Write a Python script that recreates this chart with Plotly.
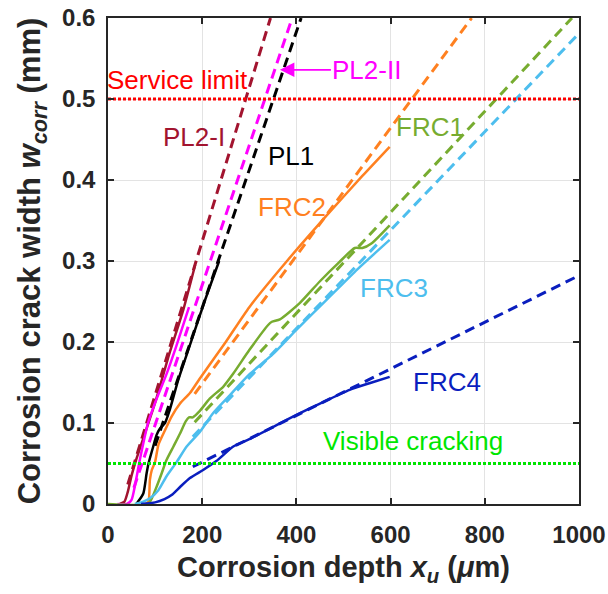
import plotly.graph_objects as go

# ---------------- data ----------------
# experimental curves (solid)
pl2i_x = [25, 35, 42, 50, 60, 80, 100, 130, 160, 185]
pl2i_y = [0, 0.003, 0.015, 0.035, 0.055, 0.09, 0.125, 0.185, 0.24, 0.295]

pl2ii_x = [20, 40, 50, 58, 66, 75, 85, 100, 124, 145, 172]
pl2ii_y = [0, 0, 0.005, 0.025, 0.05, 0.075, 0.1, 0.125, 0.16, 0.195, 0.243]

pl1_x = [60, 64, 75, 82, 86, 96, 103, 110, 121, 131, 149, 175, 205, 236]
pl1_y = [0, 0.003, 0.013, 0.038, 0.05, 0.071, 0.085, 0.093, 0.1, 0.116, 0.153, 0.198, 0.25, 0.3]

frc2_x = [80, 86, 89, 93, 100, 107, 121, 135, 153, 174, 195, 250, 300, 380, 470, 540, 598]
frc2_y = [0, 0.003, 0.03, 0.042, 0.052, 0.073, 0.091, 0.108, 0.124, 0.137, 0.155, 0.2, 0.243, 0.3, 0.36, 0.405, 0.441]

frc1_x = [0, 85, 93, 103, 114, 124, 139, 153, 165, 172, 180, 195, 216, 245, 266, 300, 340,
          348, 365, 407, 450, 490, 524, 540, 560, 598]
frc1_y = [0, 0, 0.007, 0.021, 0.038, 0.054, 0.071, 0.087, 0.102, 0.107, 0.107, 0.115, 0.13,
          0.145, 0.161, 0.19, 0.221, 0.225, 0.228, 0.248, 0.275, 0.298, 0.316, 0.316, 0.322, 0.344]

frc3_x = [57, 75, 89, 107, 124, 146, 167, 195, 223, 255, 300, 350, 400, 464, 530, 598]
frc3_y = [0, 0.003, 0.007, 0.017, 0.034, 0.052, 0.071, 0.089, 0.112, 0.132, 0.16, 0.185, 0.215, 0.252, 0.29, 0.326]

frc4_x = [70, 100, 120, 135, 153, 174, 202, 230, 266, 300, 350, 400, 450, 513, 560, 598]
frc4_y = [0, 0.002, 0.006, 0.011, 0.021, 0.032, 0.042, 0.053, 0.071, 0.08, 0.095, 0.11, 0.124, 0.141, 0.15, 0.157]

# model predictions (dashed)
pl2i_mx, pl2i_my = [42, 345], [0.024, 0.6]
pl2ii_mx, pl2ii_my = [55, 391], [0.02, 0.6]
pl1_mx, pl1_my = [100, 410], [0.072, 0.6]
frc2_mx, frc2_my = [184, 772], [0.136, 0.6]
frc1_mx, frc1_my = [184, 985], [0.101, 0.6]
frc3_mx, frc3_my = [180, 1000], [0.083, 0.581]
frc4_mx, frc4_my = [180, 1000], [0.046, 0.282]

# limits
limit_x = [0, 1000]
service_limit = [0.5, 0.5]
visible_limit = [0.05, 0.05]

x_ticks = [0, 200, 400, 600, 800, 1000]
y_ticks = [0, 0.1, 0.2, 0.3, 0.4, 0.5, 0.6]

# ---------------- style ----------------
C_DR = '#a2142f'
C_MG = '#ff00ff'
C_BK = '#000000'
C_OR = '#ff8020'
C_GR = '#77ac30'
C_LB = '#4dbeee'
C_BL = '#0a1ebe'
C_RED = '#ff0000'
C_LIME = '#00e600'
FONT = 'Liberation Sans, Arial, sans-serif'
DASH = '10px,6px'

fig = go.Figure()

series = [
    (pl2i_x, pl2i_y, pl2i_mx, pl2i_my, C_DR),
    (pl2ii_x, pl2ii_y, pl2ii_mx, pl2ii_my, C_MG),
    (pl1_x, pl1_y, pl1_mx, pl1_my, C_BK),
    (frc2_x, frc2_y, frc2_mx, frc2_my, C_OR),
    (frc1_x, frc1_y, frc1_mx, frc1_my, C_GR),
    (frc3_x, frc3_y, frc3_mx, frc3_my, C_LB),
    (frc4_x, frc4_y, frc4_mx, frc4_my, C_BL),
]
for sx, sy, mx, my, c in series:
    fig.add_trace(go.Scatter(x=mx, y=my, mode='lines',
                             line=dict(color=c, width=3, dash=DASH),
                             showlegend=False, hoverinfo='skip'))
    fig.add_trace(go.Scatter(x=sx, y=sy, mode='lines',
                             line=dict(color=c, width=2.5, shape='spline', smoothing=0.6),
                             showlegend=False, hoverinfo='skip'))

fig.add_trace(go.Scatter(x=limit_x, y=service_limit, mode='lines',
                         line=dict(color=C_RED, width=3, dash='3px,2px'),
                         showlegend=False, hoverinfo='skip'))
fig.add_trace(go.Scatter(x=limit_x, y=visible_limit, mode='lines',
                         line=dict(color=C_LIME, width=3, dash='3px,2px'),
                         showlegend=False, hoverinfo='skip'))

labels = [
    ('Service limit', 0, 0.523, C_RED, 'left', -3),
    ('PL2-I', 182, 0.453, C_DR, 'center', 0),
    ('PL1', 388, 0.43, C_BK, 'center', 0),
    ('FRC1', 683, 0.465, C_GR, 'center', 0),
    ('FRC2', 390, 0.367, C_OR, 'center', 0),
    ('FRC3', 607, 0.267, C_LB, 'center', 0),
    ('FRC4', 719, 0.151, C_BL, 'center', 0),
    ('Visible cracking', 453, 0.078, C_LIME, 'left', 0),
]
for t, x, y, c, xa, xs in labels:
    fig.add_annotation(x=x, y=y, text=t, showarrow=False, xanchor=xa, yanchor='middle',
                       xshift=xs, font=dict(family=FONT, size=26, color=c))

# PL2-II with arrow
fig.add_annotation(x=365, y=0.536, text='PL2-II', showarrow=True, ax=87, ay=0,
                   arrowhead=2, arrowsize=1.7, arrowwidth=1.7, arrowcolor=C_MG,
                   font=dict(family=FONT, size=26, color=C_MG))

axis_common = dict(
    showgrid=True, gridcolor='#e3e3e3', gridwidth=1,
    showline=True, linecolor='#262626', linewidth=1.5, mirror='allticks',
    ticks='inside', ticklen=6, tickwidth=1.5, tickcolor='#262626',
    tickfont=dict(family=FONT, size=24, color='#262626', weight='bold'),
    zeroline=False, automargin=False,
)

fig.update_layout(
    width=608, height=594,
    margin=dict(l=108, r=29, t=18, b=90),
    plot_bgcolor='white', paper_bgcolor='white',
    xaxis=dict(range=[0, 1000], tickvals=x_ticks, ticklabelstandoff=8, **axis_common,
               title=dict(text='<b>Corrosion depth <i>x</i><sub><i>u</i></sub> (<i>μ</i>m)</b>',
                          font=dict(family=FONT, size=29, color='#262626'), standoff=10)),
    yaxis=dict(range=[0, 0.6], tickvals=y_ticks, ticklabelstandoff=6, **axis_common,
               title=dict(text='<b>Corrosion crack width <i>w</i><sub><i>corr</i></sub> (mm)</b>',
                          font=dict(family=FONT, size=31, color='#262626'), standoff=12)),
)

fig.write_html('out.html')
